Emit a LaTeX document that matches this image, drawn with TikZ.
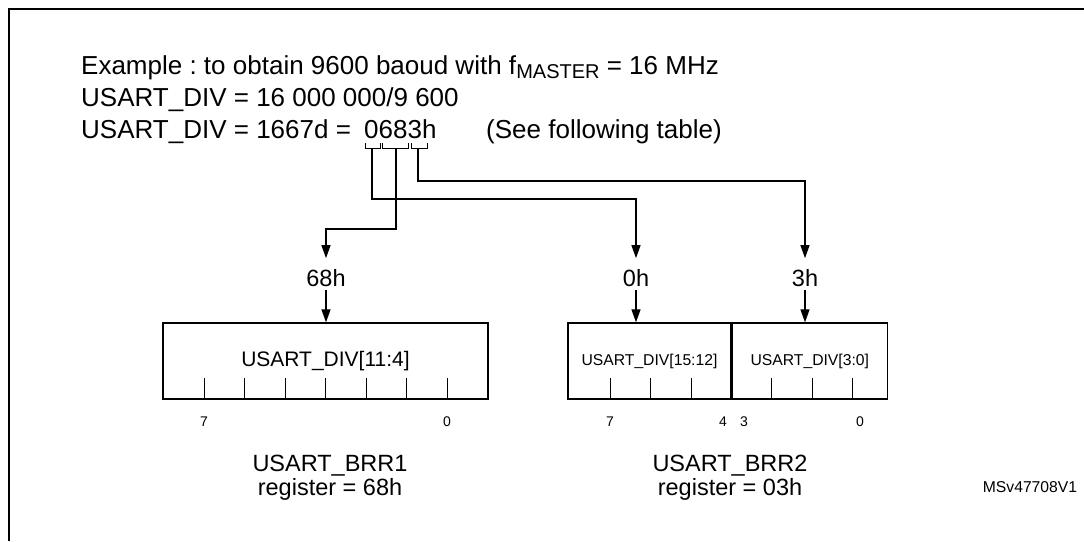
\documentclass[tikz,border=0pt]{standalone}
\usepackage{fontspec}
\setmainfont{Liberation Sans}
\usetikzlibrary{arrows.meta}
\frenchspacing
\tikzset{
  conn/.style={line width=1.2pt},
  arr/.style={conn,-{Triangle[length=13pt,width=9pt]}},
  regbox/.style={draw,line width=1.3pt,inner sep=0pt,minimum height=76pt},
  bigtxt/.style={font=\fontsize{26}{30}\selectfont,inner sep=0pt},
  lbl/.style={font=\fontsize{23.5}{24}\selectfont,inner sep=3pt},
  bitnum/.style={font=\fontsize{14}{14}\selectfont,inner sep=0pt},
  tick/.style={line width=1pt},
  brk/.style={line width=1pt},
}
\begin{document}
\begin{tikzpicture}[x=1pt,y=-1pt]
\useasboundingbox (0,0) rectangle (1084,541);
% frame
\draw[line width=2.6pt] (9,541) -- (9,9) -- (1084,9);
% header text
\node[bigtxt,anchor=base west] (t1) at (81,74) {Example : to obtain 9600 baoud with f\raisebox{-4pt}{\fontsize{20}{20}\selectfont MASTER} = 16 MHz};
\node[bigtxt,anchor=base west] (t2) at (81,106) {USART\_DIV = 16 000 000/9 600};
\node[bigtxt,anchor=base west] (t3) at (81,138) {USART\_DIV = 1667d =};
\node[bigtxt,anchor=base west] (t3v) at (364,138) {0683h};
\node[bigtxt,anchor=base west] (t4) at (486,138) {(See following table)};
% brackets under 0683h
\draw[brk] (365,143) -- (365,148) -- (380,148) -- (380,143);
\draw[brk] (382,143) -- (382,148) -- (408,148) -- (408,143);
\draw[brk] (411,143) -- (411,148) -- (427,148) -- (427,143);
\coordinate (b1) at (372,148);
\coordinate (b2) at (396,148);
\coordinate (b3) at (418,148);
% value labels
\node[lbl] (l68) at (326,278) {68h};
\node[lbl] (l0) at (636,278) {0h};
\node[lbl] (l3) at (805,278) {3h};
% registers
\node[regbox,minimum width=325pt,font=\fontsize{21}{21}\selectfont] (r1) at (325.5,361) {USART\_DIV[11:4]};
\node[regbox,minimum width=163pt,font=\fontsize{15.7}{16}\selectfont] (r2a) at (649.5,361) {USART\_DIV[15:12]};
\node[regbox,minimum width=155pt,font=\fontsize{15.7}{16}\selectfont,anchor=west] (r2b) at (r2a.east) {USART\_DIV[3:0]};
% ticks
\foreach \x in {204,244.5,285,325.5,366,406.5,447}
  \draw[tick] (\x,378) -- (\x,399);
\foreach \x in {610,650,691,771,812,852}
  \draw[tick] (\x,378) -- (\x,399);
% bit numbers
\node[bitnum] (n17) at (204,422) {7};
\node[bitnum] (n10) at (447,422) {0};
\node[bitnum] (n27) at (610,422) {7};
\node[bitnum] (n24) at (723,422) {4};
\node[bitnum] (n23) at (744,422) {3};
\node[bitnum] (n20) at (860,422) {0};
% register names
\node[font=\fontsize{23.5}{24}\selectfont,align=center,inner sep=0pt] (name1) at (330,478) {USART\_BRR1\\register = 68h};
\node[font=\fontsize{23.5}{24}\selectfont,align=center,inner sep=0pt] (name2) at (730,478) {USART\_BRR2\\register = 03h};
\node[font=\fontsize{15.7}{16}\selectfont,inner sep=0pt] (id) at (1030,487) {MSv47708V1};
% routing connectors
\draw[arr] (b1) -- ++(0,51) -| ([yshift=8pt]l0.north);
\draw[arr] (b2) -- ++(0,81) -| ([yshift=8pt]l68.north);
\draw[arr] (b3) -- ++(0,33) -| ([yshift=8pt]l3.north);
% value arrows into registers
\draw[arr] (l68.south) -- (l68.south |- r1.north);
\draw[arr] (l0.south) -- (l0.south |- r2a.north);
\draw[arr] (l3.south) -- (l3.south |- r2b.north);
\end{tikzpicture}
\end{document}
